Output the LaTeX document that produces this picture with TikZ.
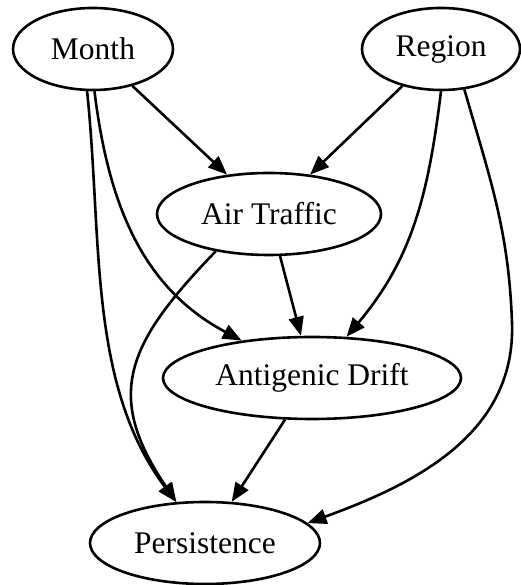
\documentclass[tikz,border=0pt]{standalone}
\usepackage{fontspec}
\setmainfont{Liberation Serif}
\usetikzlibrary{positioning,arrows.meta,shapes.geometric}

\tikzset{causal/.style={ellipse, draw, line width=2.6pt, inner sep=0pt,
    minimum height=82pt}}

\begin{document}
\begin{tikzpicture}[x=1pt, y=1pt, node distance=160pt, on grid,
    line width=2.6pt, >={Triangle[length=19pt,width=15pt]},
    font=\fontsize{31.5}{36}\selectfont]
  \useasboundingbox (0,0) rectangle (520,585);
  \node[causal, minimum width=160pt] (month) at (93,536) {Month};%
  \node[causal, minimum width=158pt] (region) [right=348pt of month] {Region};%
  \node[causal, minimum width=224pt] (air) [below right=165pt and 176pt of month] {Air Traffic};%
  \node[causal, minimum width=298pt] (drift) [below right=164pt and 43pt of air] {Antigenic Drift};%
  \node[causal, minimum width=230pt] (persist) [below left=165pt and 107pt of drift] {Persistence};%
  \coordinate (rbend) at (512,262);
  \path[->] (month) edge (air)%
            (region) edge (air)%
            (air) edge (drift)%
            (drift) edge (persist)%
            (month.272) edge [out=-83, in=152] (drift)%
            (month.262) edge [out=-84, in=127, looseness=0.9] (persist.125)%
            (air.215) edge [out=-134, in=124, looseness=1.3] (persist.125)%
            (region.270) edge [out=-97, in=50] (drift);
  \draw[->] (region.300) to[out=-74, in=92] (rbend)
            to[out=-88, in=20] (persist.11);
\end{tikzpicture}
\end{document}
